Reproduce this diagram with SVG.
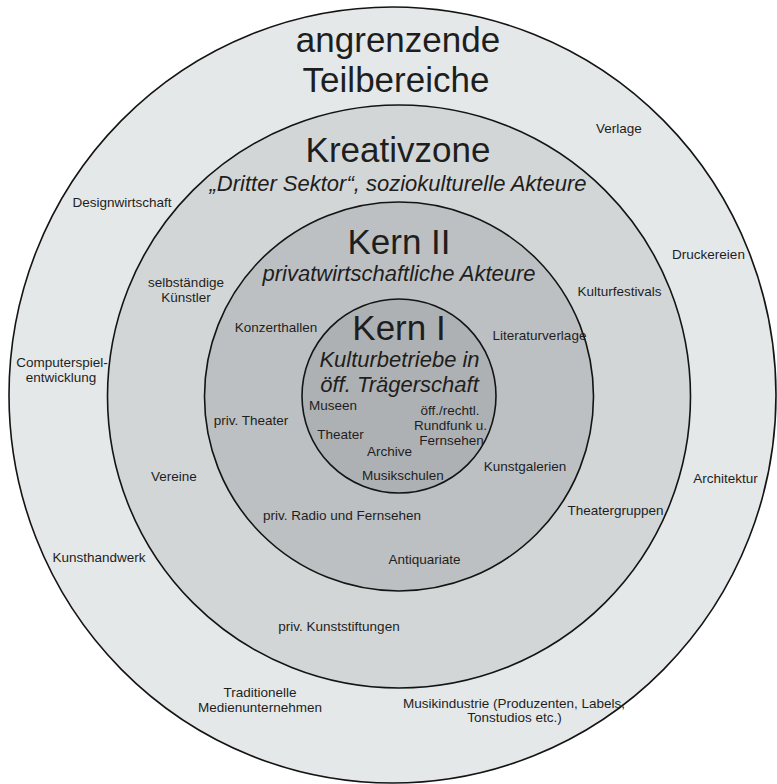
<svg xmlns="http://www.w3.org/2000/svg" width="777" height="784" viewBox="0 0 777 784">
<style>
  .ring { stroke: #141414; stroke-width: 1.6; }
  .t { font-family: "Liberation Sans", Arial, sans-serif; fill: #1e1e1e; text-anchor: middle; }
  .title { font-size: 35px; }
  .sub { font-size: 22px; font-style: italic; }
  .lbl { font-size: 13.5px; }
</style>
<rect x="0" y="0" width="777" height="784" fill="#ffffff"/>
<g id="angrenzende-teilbereiche">
  <ellipse class="ring" cx="392.5" cy="395" rx="383.5" ry="388" fill="#e4e8e9"/>
  <text class="t title" x="398" y="52">angrenzende</text>
  <text class="t title" x="396" y="92">Teilbereiche</text>
  <text class="t lbl" x="619" y="133">Verlage</text>
  <text class="t lbl" x="122" y="207">Designwirtschaft</text>
  <text class="t lbl" x="708.5" y="259">Druckereien</text>
  <text class="t lbl" x="62" y="367">Computerspiel-</text>
  <text class="t lbl" x="61" y="382">entwicklung</text>
  <text class="t lbl" x="725.5" y="483">Architektur</text>
  <text class="t lbl" x="99" y="562">Kunsthandwerk</text>
  <text class="t lbl" x="260" y="697">Traditionelle</text>
  <text class="t lbl" x="260" y="712">Medienunternehmen</text>
  <text class="t lbl" x="514" y="708">Musikindustrie (Produzenten, Labels,</text>
  <text class="t lbl" x="514.5" y="722">Tonstudios etc.)</text>
</g>
<g id="kreativzone">
  <circle class="ring" cx="399" cy="396.5" r="291.5" fill="#d3d6d7"/>
  <text class="t title" x="398" y="162">Kreativzone</text>
  <text class="t sub" x="398" y="191">„Dritter Sektor“, soziokulturelle Akteure</text>
  <text class="t lbl" x="186" y="287">selbständige</text>
  <text class="t lbl" x="186" y="302">Künstler</text>
  <text class="t lbl" x="619.5" y="296">Kulturfestivals</text>
  <text class="t lbl" x="174" y="481">Vereine</text>
  <text class="t lbl" x="615.5" y="515">Theatergruppen</text>
  <text class="t lbl" x="339" y="631">priv. Kunststiftungen</text>
</g>
<g id="kern-2">
  <circle class="ring" cx="399" cy="396.5" r="194.5" fill="#bdc0c2"/>
  <text class="t title" x="399" y="254">Kern II</text>
  <text class="t sub" x="399" y="281">privatwirtschaftliche Akteure</text>
  <text class="t lbl" x="276" y="332">Konzerthallen</text>
  <text class="t lbl" x="539.5" y="340">Literaturverlage</text>
  <text class="t lbl" x="251" y="425">priv. Theater</text>
  <text class="t lbl" x="525" y="471">Kunstgalerien</text>
  <text class="t lbl" x="342" y="520">priv. Radio und Fernsehen</text>
  <text class="t lbl" x="424.5" y="564">Antiquariate</text>
</g>
<g id="kern-1">
  <circle class="ring" cx="399" cy="396" r="97" fill="#aeb1b3"/>
  <text class="t title" x="399" y="340">Kern I</text>
  <text class="t sub" x="399.5" y="367">Kulturbetriebe in</text>
  <text class="t sub" x="399.5" y="392">öff. Trägerschaft</text>
  <text class="t lbl" x="333" y="410">Museen</text>
  <text class="t lbl" x="450" y="415">öff./rechtl.</text>
  <text class="t lbl" x="450.5" y="430">Rundfunk u.</text>
  <text class="t lbl" x="340.5" y="439">Theater</text>
  <text class="t lbl" x="451.5" y="445">Fernsehen</text>
  <text class="t lbl" x="389.5" y="456">Archive</text>
  <text class="t lbl" x="403" y="480">Musikschulen</text>
</g>
</svg>
